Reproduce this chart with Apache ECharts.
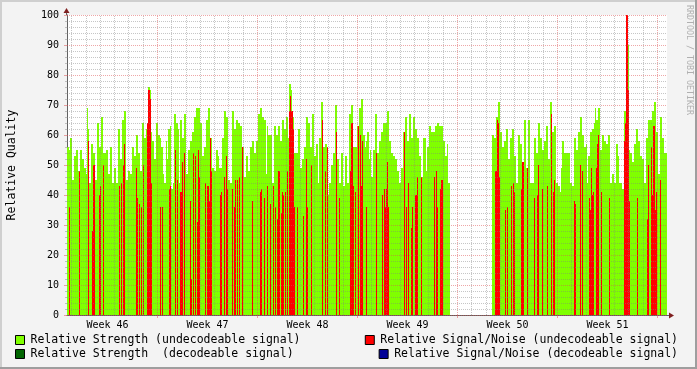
<!DOCTYPE html>
<html><head><meta charset="utf-8">
<script src="https://cdn.jsdelivr.net/npm/echarts@6/dist/echarts.min.js"></script>
<style>html,body{margin:0;padding:0;background:#f3f3f3}#c{width:697px;height:369px}</style>
</head><body><div id="c"></div>
<script>
// ---- data (one value per time column) ----
const seriesNames = [
  'Relative Strength (undecodeable signal)',
  'Relative Signal/Noise (undecodeable signal)',
  'Relative Strength  (decodeable signal)',
  'Relative Signal/Noise (decodeable signal)'
];
const weekLabels = ['Week 46','Week 47','Week 48','Week 49','Week 50','Week 51'];
const yTicks = [0,10,20,30,40,50,60,70,80,90,100];

// Relative Strength (undecodeable) before the data gap
const strengthA = [
56,56,55,59,59,45,45,53,53,55,
55,48,48,55,55,52,52,49,49,47,
69,62,44,44,57,57,54,54,45,45,
64,64,56,56,66,66,54,54,54,55,
55,47,47,56,56,44,44,49,49,44,
44,62,62,52,52,65,65,68,68,45,
45,48,48,47,47,56,56,53,53,60,
60,54,54,48,48,64,64,59,59,62,
62,76,76,75,61,58,58,52,52,64,
64,60,60,59,56,56,47,44,44,
58,52,62,62,63,42,42,44,67,67,
64,64,62,44,65,65,59,59,67,67,
47,47,55,55,58,58,61,61,66,66,
69,69,69,69,64,64,53,53,56,56,
65,65,69,69,59,59,49,49,48,48,
55,55,53,49,49,49,59,59,68,68,
66,66,45,45,44,44,68,68,62,62,
65,65,64,64,63,63,56,56,46,46,
53,53,48,48,56,56,58,58,54,54,
58,58,67,67,69,69,66,66,65,65,
47,63,60,60,60,60,44,44,63,63,
60,60,63,63,58,58,65,65,62,62,
66,66,59,77,77,75,66,66,54,54,
54,54,62,62,49,49,52,52,56,56,
66,66,64,64,56,56,67,67,53,53,
57,57,44,59,59,71,71,56,56,57,
57,56,40,44,44,50,50,54,54,70,
70,52,52,44,44,54,54,43,43,53,
53,44,44,67,67,70,70,56,56,56,
56,63,63,69,69,72,72,60,60,56,
58,61,61,52,55,46,46,55,55,67,
67,54,54,58,58,61,61,64,64,64,
64,68,68,58,58,54,54,53,53,52,
52,48,48,44,44,49,49,61,61,66,
66,58,58,67,67,59,59,66,66,62,
62,59,59,53,53,46,46,59,59,59,
48,56,56,63,63,61,61,61,61,63,
63,64,64,63,63,63,63,58,58,53,
53,57,44,44
];
const gapLength = 42; // columns without data
// Relative Strength (undecodeable) after the gap
const strengthB = [
60,60,59,59,66,66,71,71,61,61,
56,56,58,58,62,62,52,52,59,59,
62,62,53,53,44,44,60,60,57,57,
51,51,65,65,49,49,65,65,44,44,
44,44,59,59,54,54,64,64,59,59,
55,55,58,58,63,63,52,52,71,71,
61,61,63,63,44,44,43,43,41,49,
58,58,54,54,54,54,54,54,44,44,
43,43,59,59,55,55,61,61,66,66,
60,60,56,56,57,44,53,53,61,61,
62,62,64,69,65,65,69,69,55,55,
60,60,58,58,57,57,60,60,44,44,
47,47,44,44,57,57,53,44,44,44,
42,42,68,68,100,100,90,55,54,54,
51,51,57,57,62,62,58,58,53,53,
52,52,44,44,59,59,65,65,65,65,
68,68,71,71,61,61,47,47,66,66,
59,59,54,54,54
];
// Relative Signal/Noise (undecodeable): [column, value]
const noisePoints = [
[2,36],[12,48],[21,58],[25,28],[26,50],[27,50],[32,40],[33,43],[36,50],[52,43],[54,44],[56,50],[57,57],
[69,49],[70,39],[72,37],[74,36],[76,50],[80,64],[81,75],[82,75],[83,72],[84,44],[93,36],[95,36],
[102,42],[103,43],[108,55],[110,45],[113,41],[114,41],[115,51],[117,54],[123,38],[124,12],[126,54],
[128,53],[130,31],[131,55],[132,46],[138,44],[140,43],[141,43],[142,38],[143,59],[144,48],[153,40],
[154,41],[157,46],[159,53],[160,42],[165,42],[167,36],[168,45],[170,45],[172,46],[175,56],[185,38],
[193,41],[194,42],[197,39],
[200,43],[203,37],[206,43],[208,36],[210,32],[211,48],[212,48],[214,34],[215,41],[216,40],[218,41],
[220,48],[222,68],[223,73],[224,68],[225,68],[226,62],[227,36],[230,36],[236,33],[239,52],[240,36],
[244,50],[255,65],[258,48],[260,56],[269,61],[272,39],[283,48],[284,64],[285,64],[286,43],[288,41],
[291,63],[293,60],[294,43],[295,58],
[299,36],[309,54],[315,40],[317,42],[318,36],[319,42],[320,51],[321,36],[337,61],[339,36],[341,44],
[344,29],[345,36],[348,40],[349,40],[350,46],[354,46],[367,46],[369,48],[370,36],[373,42],[374,45],[375,45],
[428,48],[429,48],[430,65],[431,64],[432,46],[438,35],[440,36],[444,43],[446,44],[447,41],[454,42],
[455,51],[456,51],[460,49],[467,39],[470,40],[471,50],[475,42],[480,43],[484,67],[486,41],[487,45],
[507,38],[508,37],[513,50],[515,48],
[522,39],[523,35],[524,49],[525,40],[526,41],[529,49],[530,57],[531,60],[534,41],[542,39],[557,58],
[558,64],[559,100],[560,100],[561,75],[562,38],[570,39],[580,32],[581,50],[584,56],[585,40],[586,63],
[587,63],[588,35],[589,41],[593,45]
];
// decodeable signal
const decodedStrengthPoints = [];
const decodedNoisePoints = [];

// ---- build ----
const N = strengthA.length + gapLength + strengthB.length;
const cats = Array.from({length: N}, (_, i) => i);
const strength = strengthA.concat(Array(gapLength).fill(null), strengthB);
function sparse(points) { const a = Array(N).fill(null); points.forEach(([i, v]) => { a[i] = v; }); return a; }

// time layout: one column per time step, 100 columns per week
const colsPerWeek = 100, firstWeekLine = 90;
const weekLines = [], dayLines = [], labelCols = [];
for (let k = -1; k <= 6; k++) {
  for (let d = 0; d < 7; d++) {
    const i = Math.round(firstWeekLine + k * colsPerWeek + d * colsPerWeek / 7);
    if (i <= 0 || i >= N) continue;
    if (d === 0) weekLines.push(i); else dayLines.push(i);
  }
}
weekLabels.forEach((_, k) => labelCols.push(firstWeekLine - colsPerWeek / 2 + k * colsPerWeek));

const mono = 'DejaVu Sans Mono';
const gridCol = 'rgba(128,128,128,0.45)';
const mgridCol = 'rgba(222,79,79,0.5)';
const colors = ['#80ff00', '#ff0000', '#006400', '#000096'];
const G = {left: 67, top: 15, width: 600, height: 300};

const chart = echarts.init(document.getElementById('c'), null, {renderer: 'canvas'});
function gridLines(cols, color) {
  return {type: 'line', data: [], z: 10, silent: true, symbol: 'none',
    markLine: {silent: true, symbol: ['none', 'none'], label: {show: false}, animation: false,
      lineStyle: {color: color, width: 1, type: [1, 1]},
      emphasis: {disabled: true},
      data: cols.map(i => ({xAxis: i}))}};
}
const legendBase = {orient: 'horizontal', padding: 0, itemWidth: 9, itemHeight: 9, itemGap: 0,
  icon: 'rect', selectedMode: false,
  itemStyle: {borderColor: '#000', borderWidth: 1},
  textStyle: {fontFamily: mono, fontSize: 11.5, color: '#000', padding: [0, 0, 0, 1]}};

chart.setOption({
  animation: false,
  backgroundColor: '#f3f3f3',
  grid: {left: G.left, top: G.top, width: G.width, height: G.height, show: true,
    backgroundColor: '#ffffff', borderWidth: 0, containLabel: false, outerBoundsMode: 'none'},
  legend: [
    Object.assign({}, legendBase, {data: [seriesNames[0]], left: 15, top: 334}),
    Object.assign({}, legendBase, {data: [seriesNames[1]], right: 19, top: 334}),
    Object.assign({}, legendBase, {data: [seriesNames[2]], left: 15, top: 348}),
    Object.assign({}, legendBase, {data: [seriesNames[3]], right: 19, top: 348})
  ],
  xAxis: [
    {type: 'category', data: cats, boundaryGap: true,
     axisLine: {show: true, lineStyle: {color: '#606060', width: 1}},
     axisTick: {show: true, alignWithLabel: true, interval: (i) => weekLines.includes(i), length: 3,
       lineStyle: {color: mgridCol}},
     axisLabel: {interval: (i) => labelCols.includes(i),
       formatter: (v) => weekLabels[labelCols.indexOf(Number(v))] || '',
       fontFamily: mono, fontSize: 10, color: '#000', margin: 5},
     splitLine: {show: false}}
  ],
  yAxis: [
    {type: 'value', min: yTicks[0], max: yTicks[yTicks.length - 1], interval: yTicks[1] - yTicks[0],
     name: 'Relative Quality', nameLocation: 'middle', nameGap: 49, nameRotate: 90,
     nameTextStyle: {fontFamily: mono, fontSize: 11.5, color: '#000'},
     axisLine: {show: true, lineStyle: {color: '#606060', width: 1}},
     axisTick: {show: true, length: 3, lineStyle: {color: mgridCol}},
     minorTick: {show: true, splitNumber: 5, length: 2, lineStyle: {color: gridCol}},
     axisLabel: {fontFamily: mono, fontSize: 10, color: '#000', margin: 8},
     splitLine: {show: false}},
    {type: 'value', min: yTicks[0], max: yTicks[yTicks.length - 1], interval: yTicks[1] - yTicks[0], z: 10,
     axisLine: {show: false}, axisTick: {show: false}, axisLabel: {show: false},
     minorTick: {show: false, splitNumber: 5},
     splitLine: {show: true, lineStyle: {color: mgridCol, width: 1, type: [1, 1]}},
     minorSplitLine: {show: true, lineStyle: {color: gridCol, width: 1, type: [1, 1]}}}
  ],
  series: [
    {name: seriesNames[0], type: 'bar', data: strength, barCategoryGap: '0%', barGap: '-100%', itemStyle: {color: colors[0]}},
    {name: seriesNames[1], type: 'bar', data: sparse(noisePoints), barCategoryGap: '0%', barGap: '-100%', itemStyle: {color: colors[1]}},
    {name: seriesNames[2], type: 'bar', data: sparse(decodedStrengthPoints), barCategoryGap: '0%', barGap: '-100%', itemStyle: {color: colors[2]}},
    {name: seriesNames[3], type: 'bar', data: sparse(decodedNoisePoints), barCategoryGap: '0%', barGap: '-100%', itemStyle: {color: colors[3]}},
    gridLines(dayLines, gridCol),
    gridLines(weekLines, mgridCol)
  ],
  graphic: [
    {type: 'rect', shape: {x: 0, y: 0, width: 697, height: 2}, style: {fill: '#cfcfcf'}, silent: true},
    {type: 'rect', shape: {x: 0, y: 0, width: 2, height: 369}, style: {fill: '#cfcfcf'}, silent: true},
    {type: 'rect', shape: {x: 0, y: 367, width: 697, height: 2}, style: {fill: '#9e9e9e'}, silent: true},
    {type: 'rect', shape: {x: 695, y: 0, width: 2, height: 369}, style: {fill: '#9e9e9e'}, silent: true},
    {type: 'line', shape: {x1: G.left - 0.5, y1: G.top, x2: G.left - 0.5, y2: G.top - 3}, style: {stroke: '#606060', lineWidth: 1}, z: 20},
    {type: 'line', shape: {x1: G.left + G.width, y1: G.top + G.height + 0.5, x2: G.left + G.width + 2, y2: G.top + G.height + 0.5}, style: {stroke: '#606060', lineWidth: 1}, z: 20},
    {type: 'polygon', shape: {points: [[G.left - 3.5, G.top - 2], [G.left + 2.5, G.top - 2], [G.left - 0.5, G.top - 7]]}, style: {fill: '#7f1f1f'}, z: 20},
    {type: 'polygon', shape: {points: [[G.left + G.width + 2, G.top + G.height - 2.5], [G.left + G.width + 2, G.top + G.height + 3.5], [G.left + G.width + 7, G.top + G.height + 0.5]]}, style: {fill: '#7f1f1f'}, z: 20},
    {type: 'text', x: 689, y: 5, rotation: -Math.PI / 2,
     style: {text: 'RRDTOOL / TOBI OETIKER', font: '8.3px "DejaVu Sans Mono"', fill: '#b0b0b0', align: 'left', verticalAlign: 'middle'}, silent: true}
  ]
});
</script></body></html>
